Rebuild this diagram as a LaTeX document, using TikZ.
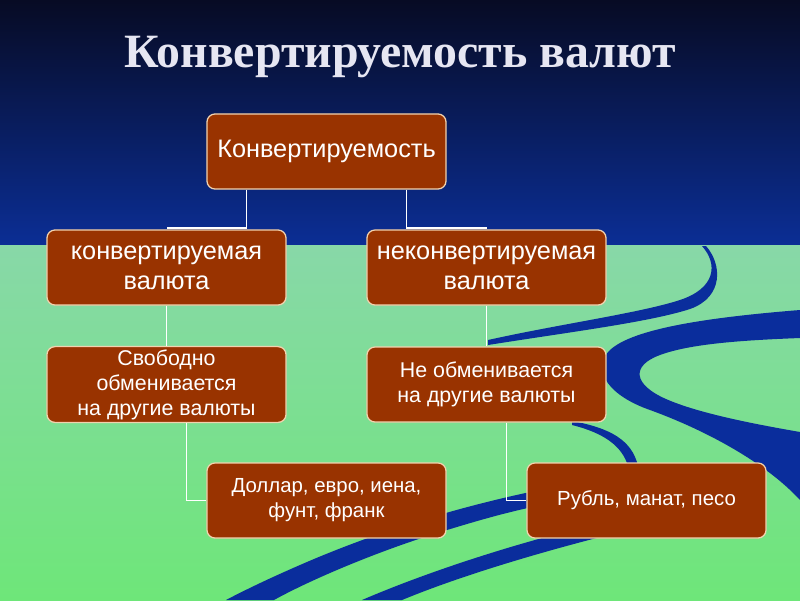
\documentclass[tikz,border=0pt]{standalone}
\usepackage{fontspec}
\setmainfont{Liberation Serif}
\newfontfamily\boxfont{Liberation Sans}
\usetikzlibrary{calc}

\definecolor{skytop}{HTML}{070B24}
\definecolor{skybot}{HTML}{0B2E95}
\definecolor{fieldtop}{HTML}{88D8A8}
\definecolor{fieldbot}{HTML}{6EE679}
\definecolor{riverblue}{HTML}{0A2D9C}
\definecolor{boxfill}{HTML}{993300}
\definecolor{boxedge}{HTML}{F2D2AE}
\definecolor{titlegray}{HTML}{E6E6F2}

\begin{document}
\begin{tikzpicture}[
    x=0.025cm,y=-0.025cm,
    box/.style={draw=boxedge,line width=0.9pt,fill=boxfill,rounded corners=0.2cm,
        minimum width=5.975cm,minimum height=1.875cm,align=center,inner sep=2pt,
        text=white,font=\boxfont\fontsize{18}{21.5}\selectfont},
    notebox/.style={box,font=\boxfont\fontsize{15.2}{17.8}\selectfont},
    listbox/.style={box,font=\boxfont\fontsize{14.5}{17.8}\selectfont},
    link/.style={draw=white,line width=1.3pt},
    river/.style={fill=riverblue},
    titletext/.style={font=\bfseries\fontsize{34}{40}\selectfont}
]
\useasboundingbox (0,0) rectangle (800,600);

% background: night sky and green field
\fill[top color=skytop,bottom color=skybot] (0,0) rectangle (800,245);
\fill[top color=fieldtop,bottom color=fieldbot] (0,245) rectangle (800,600);

% river
\fill[river] (702,246) .. controls (718,264) and (716,288) .. (680,300)
    .. controls (640,313) and (560,324) .. (488,340)
    -- (488,345) .. controls (570,332) and (650,322) .. (690,309)
    .. controls (724,297) and (722,264) .. (706,246) -- cycle;
\fill[river] (800,310) .. controls (700,318) and (628,330) .. (608,352)
    .. controls (592,372) and (610,396) .. (650,410)
    .. controls (705,430) and (765,462) .. (800,500)
    -- (800,432) .. controls (760,425) and (700,414) .. (666,399)
    .. controls (634,385) and (630,366) .. (660,355)
    .. controls (692,343) and (750,340) .. (800,338) -- cycle;
\fill[river] (572,421) .. controls (610,428) and (632,440) .. (638,466)
    -- (628,466) .. controls (622,446) and (604,433) .. (572,425) -- cycle;
\fill[river] (560,486) .. controls (470,503) and (380,530) .. (300,565)
    .. controls (270,578) and (245,590) .. (226,600)
    -- (274,600) .. controls (310,580) and (380,550) .. (447,530)
    .. controls (480,520) and (520,508) .. (560,502) -- cycle;
\fill[river] (580,528) .. controls (500,548) and (420,575) .. (362,600)
    -- (402,600) .. controls (460,576) and (540,552) .. (620,532) -- cycle;

% title
\node[titletext,text=titlegray] (title) at (400,57) {Конвертируемость валют};

% boxes
\node[box] (conv) at (326.5,151.5) {Конвертируемость};
\node[box] (cv) at (166.5,267.5) {конвертируемая\\валюта};
\node[box] (ncv) at (486.5,267.5) {неконвертируемая\\валюта};
\node[notebox] (free) at (166.5,384.5) {Свободно\\обменивается\\ на другие валюты};
\node[notebox] (nofree) at (486.5,384.5) {Не обменивается\\на другие валюты};
\node[listbox] (hard) at (326.5,500.5) {Доллар, евро, иена,\\фунт, франк};
\node[listbox] (soft) at (646.5,500.5) {Рубль, манат, песо};

% links
\draw[link] ($(conv.south)+(-80,0)$) |- ([yshift=0.9pt]cv.north);
\draw[link] ($(conv.south)+(80,0)$) |- ([yshift=0.9pt]ncv.north);
\draw[link] (cv) -- (free);
\draw[link] (ncv) -- (nofree);
\draw[link] ($(free.south)+(20,0)$) |- (hard.west);
\draw[link] ($(nofree.south)+(20,0)$) |- (soft.west);
\end{tikzpicture}
\end{document}
